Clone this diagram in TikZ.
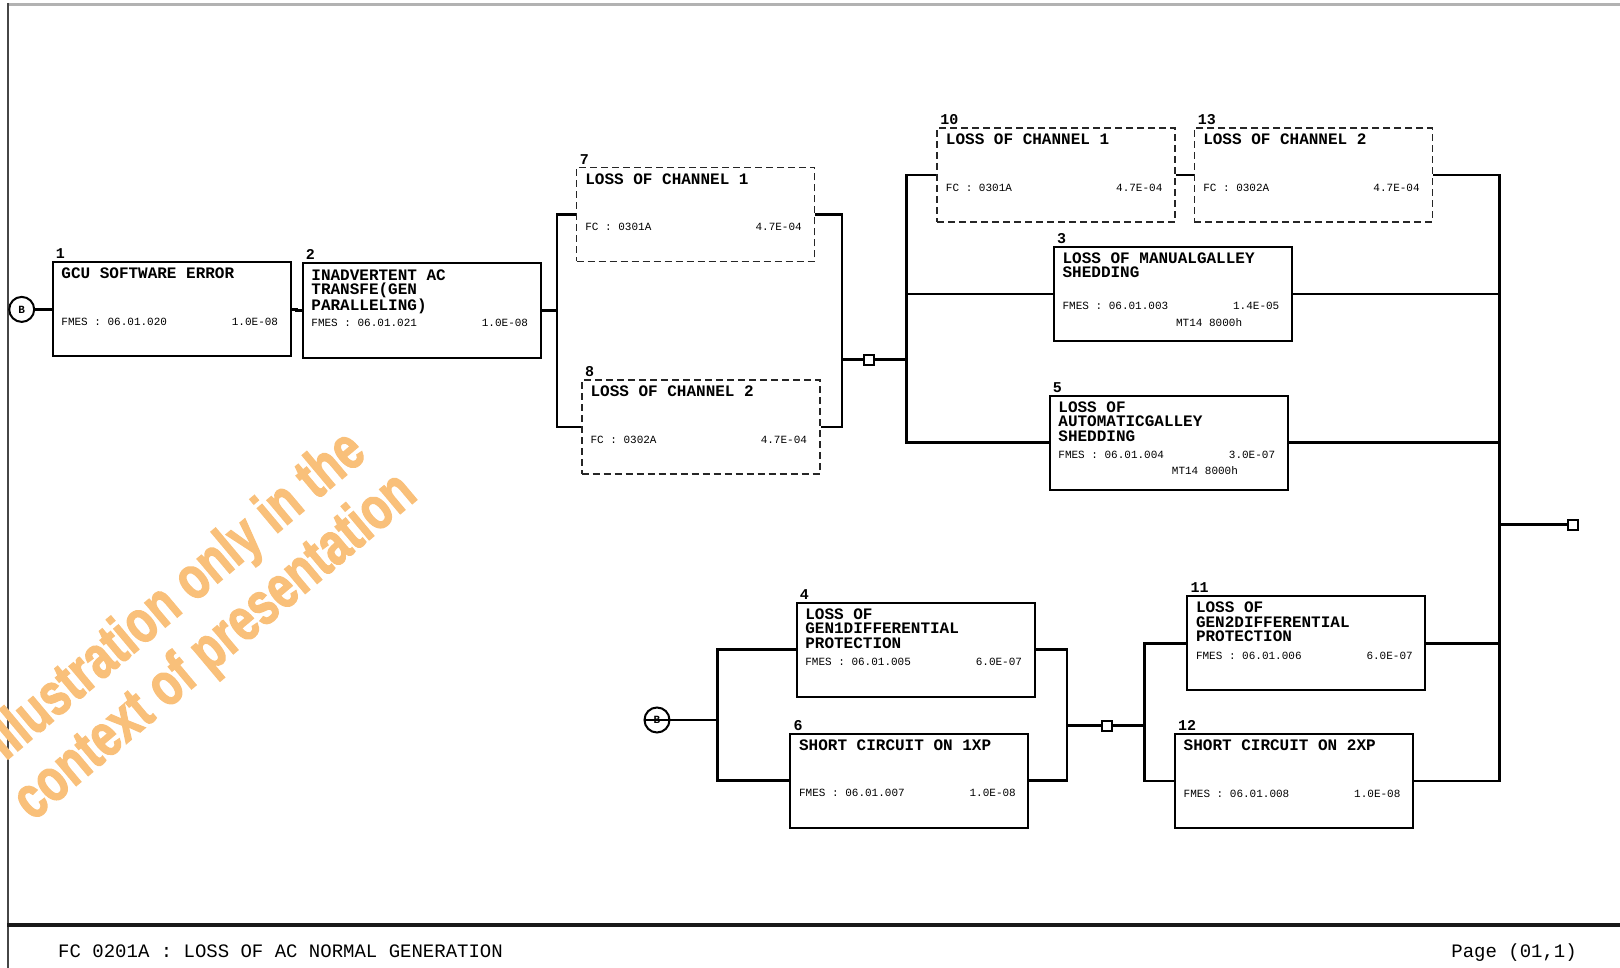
\documentclass[tikz,border=0pt]{standalone}
\usepackage{fontspec}
\newfontfamily\monofont{Liberation Mono}
\newfontfamily\wmfont{Liberation Sans}[UprightFont=* Bold, FakeBold=2.5]
\definecolor{wmorange}{RGB}{249,192,122}
\definecolor{frame}{RGB}{70,70,70}
\tikzset{
  ev/.style={draw, line width=2pt, minimum width=238pt, minimum height=94pt, inner sep=0pt},
  evd/.style={ev, draw=black!85, line width=1.7pt, dash pattern=on 7pt off 4pt},
  conn/.style={line width=2.5pt},
  ttl/.style={font=\monofont\bfseries\fontsize{16}{14.5}\selectfont, align=left, inner sep=0pt, anchor=north west},
  codetxt/.style={font=\monofont\fontsize{11}{13}\selectfont, inner sep=0pt},
  numlbl/.style={font=\monofont\bfseries\fontsize{15}{15}\selectfont, inner sep=0pt, anchor=base west},
  sqr/.style={draw, fill=white, line width=2pt, minimum size=10pt, inner sep=0pt},
  bcirc/.style={circle, draw, line width=2pt, minimum size=25pt, inner sep=0pt, font=\monofont\bfseries\fontsize{11}{11}\selectfont},
  wmtxt/.style={text=wmorange, font=\wmfont\fontsize{60}{60}\selectfont, inner sep=0pt, rotate=40},
  foot/.style={font=\monofont\fontsize{19}{19}\selectfont, inner sep=0pt},
}
% style, name, cx, cy, num, title, code, value
\newcommand\evt[8]{%
  \node[#1] (#2) at (#3,#4) {};
  \node[numlbl] (#2n) at ([xshift=4pt,yshift=2.5pt]#2.north west) {#5};
  \node[ttl] (#2t) at ([xshift=9.5pt,yshift=-6.6pt]#2.north west) {#6};
  \node[codetxt,anchor=base west] (#2c) at ([xshift=9.5pt,yshift=-64pt]#2.north west) {#7};
  \node[codetxt,anchor=base east] (#2v) at ([xshift=-13.4pt,yshift=-64pt]#2.north east) {#8};
}
\begin{document}
\begin{tikzpicture}[x=1pt,y=-1pt]
\useasboundingbox (0,0) rectangle (1620,968);
% frame
\draw[line width=3pt, black!30] (7,4.5) -- (1620,4.5);
\draw[line width=2pt, frame] (7.5,3) -- (7.5,968);
\draw[line width=4pt, black!90] (7,925) -- (1620,925);
\node[foot, anchor=base west] (ftitle) at (58,957) {FC 0201A : LOSS OF AC NORMAL GENERATION};
\node[foot, anchor=base east] (fpage) at (1577,957) {Page (01,1)};

% events
\evt{ev}{e1}{171.7}{309.4}{1}{GCU SOFTWARE ERROR}{FMES : 06.01.020}{1.0E-08}
\evt{ev}{e2}{421.7}{310.5}{2}{INADVERTENT AC\\TRANSFE(GEN\\PARALLELING)}{FMES : 06.01.021}{1.0E-08}
\evt{evd}{e7}{695.5}{214.4}{7}{LOSS OF CHANNEL 1}{FC : 0301A}{4.7E-04}
\evt{evd}{e8}{700.7}{427.2}{8}{LOSS OF CHANNEL 2}{FC : 0302A}{4.7E-04}
\evt{evd}{e10}{1056.1}{175}{10}{LOSS OF CHANNEL 1}{FC : 0301A}{4.7E-04}
\evt{evd}{e13}{1313.4}{175}{13}{LOSS OF CHANNEL 2}{FC : 0302A}{4.7E-04}
\evt{ev}{e3}{1172.9}{293.9}{3}{LOSS OF MANUALGALLEY\\SHEDDING}{FMES : 06.01.003}{1.4E-05}
\evt{ev}{e5}{1168.7}{442.7}{5}{LOSS OF\\AUTOMATICGALLEY\\SHEDDING}{FMES : 06.01.004}{3.0E-07}
\evt{ev}{e4}{915.6}{649.5}{4}{LOSS OF\\GEN1DIFFERENTIAL\\PROTECTION}{FMES : 06.01.005}{6.0E-07}
\evt{ev}{e6}{909.4}{780.6}{6}{SHORT CIRCUIT ON 1XP}{FMES : 06.01.007}{1.0E-08}
\evt{ev}{e11}{1306.3}{643.4}{11}{LOSS OF\\GEN2DIFFERENTIAL\\PROTECTION}{FMES : 06.01.006}{6.0E-07}
\evt{ev}{e12}{1294}{781}{12}{SHORT CIRCUIT ON 2XP}{FMES : 06.01.008}{1.0E-08}
\node[codetxt,anchor=base east] (e3m) at ([xshift=-50.6pt,yshift=-80.2pt]e3.north east) {MT14 8000h};
\node[codetxt,anchor=base east] (e5m) at ([xshift=-50.6pt,yshift=-80.2pt]e5.north east) {MT14 8000h};

% junctions
\coordinate (j1) at (557,310.5);
\coordinate (j2) at (842,359.5);
\coordinate (j3) at (906.5,359.5);
\coordinate (j4) at (1499.5,524.5);
\coordinate (j5) at (717.7,720);
\coordinate (j6) at (1067,725.5);
\coordinate (j7) at (1144.3,725.5);

% connectors
\node[bcirc] (b1) at (21.7,309.4) {B};
\draw[conn] (b1.east) -- (e1.west);
\draw[conn] (e1.east) -- ++(5,0) |- (e2.west);
\draw[conn] (e2.east) -- (j1);
\draw[conn] (e7.west) -| (j1) |- (e8.west);
\draw[conn] (e7.east) -| (j2) |- (e8.east);
\draw[conn] (j2) -- (j3);
\node[sqr] (s1) at (869,359.5) {};
\draw[conn] (e10.west) -| (j3) |- (e5.west);
\draw[conn] (j3 |- e3.west) -- (e3.west);
\draw[conn] (e10.east) -- (e13.west);
\draw[conn] (e13.east) -| (j4) |- (e12.east);
\draw[conn] (e3.east) -- (e3.east -| j4);
\draw[conn] (e5.east) -- (e5.east -| j4);
\draw[conn] (e11.east) -- (e11.east -| j4);
\coordinate (outc) at (1573,524.5);
\draw[conn] (j4) -- (outc);
\node[sqr] (sout) at (outc) {};

\node[bcirc] (b2) at (657,720) {B};
\draw[conn] (b2.west) -- (j5);
\draw[conn] (e4.west) -| (j5) |- (e6.west);
\draw[conn] (e4.east) -| (j6) |- (e6.east);
\draw[conn] (j6) -- (j7);
\node[sqr] (s2) at (1106.7,725.5) {};
\draw[conn] (e11.west) -| (j7) |- (e12.west);

% watermark
\node[wmtxt] (wm1) at (177,597) {\scalebox{0.76}[1]{Illustration only in the}};
\node[wmtxt] (wm2) at (216,648) {\scalebox{0.76}[1]{context of presentation}};
\end{tikzpicture}
\end{document}
